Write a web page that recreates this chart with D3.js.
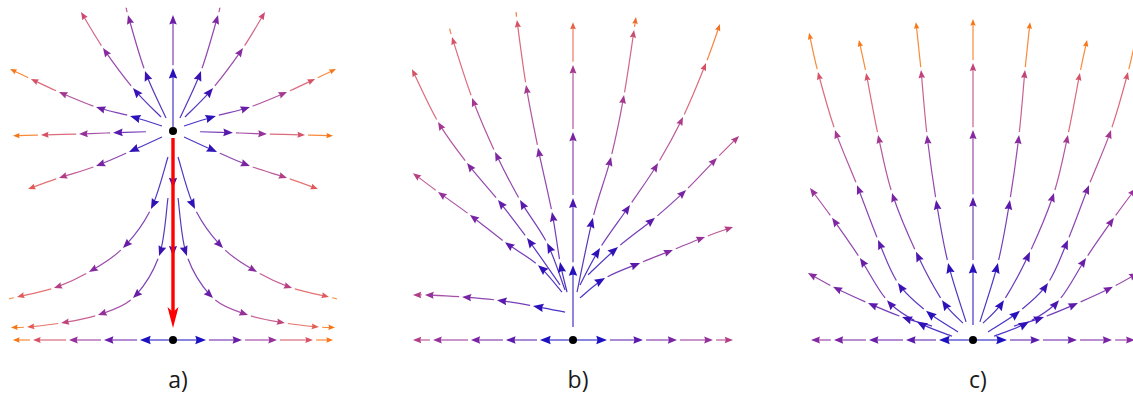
<!DOCTYPE html>
<html>
<head>
<meta charset="utf-8">
<script src="https://cdn.jsdelivr.net/npm/d3@7"></script>
<style>
  html, body { margin: 0; padding: 0; background: #ffffff; }
  svg { display: block; }
</style>
</head>
<body>
<svg id="chart" width="1133" height="396"></svg>
<script>
// Each streamline: first entry is where it starts, every following entry is an
// arrow tip [x, y, speedLevel]; the segment ending at a tip takes that level's colour.

// ---- panel a: source above a saddle ----
const aUpper = [   // right half, mirrored to the left
  [[0.043, 0.888], [0.173, 1.076, 0.2], [0.278, 1.30, 0.42], [0.287, 1.328, 0.6]],
  [[0.074, 0.892], [0.247, 1.008, 0.2], [0.432, 1.168, 0.45], [0.568, 1.312, 0.7]],
  [[0.068, 0.856], [0.265, 0.896, 0.12], [0.475, 0.932, 0.35], [0.704, 0.992, 0.55], [0.877, 1.044, 0.75], [1.006, 1.084, 0.95]],
  [[0.167, 0.833], [0.370, 0.829, 0.3], [0.580, 0.824, 0.5], [0.815, 0.820, 0.75], [0.988, 0.817, 0.95]],
  [[0.068, 0.812], [0.272, 0.752, 0.15], [0.475, 0.696, 0.4], [0.704, 0.648, 0.6], [0.895, 0.604, 0.8]]
];
const aLower = [   // right half, mirrored to the left
  [[0.031, 0.732], [0.136, 0.524, 0.15], [0.309, 0.368, 0.35], [0.519, 0.272, 0.45], [0.735, 0.208, 0.62], [0.963, 0.172, 0.8], [1.012, 0.164, 0.95]],
  [[0.031, 0.568], [0.086, 0.336, 0.2], [0.247, 0.168, 0.35], [0.463, 0.100, 0.5], [0.691, 0.068, 0.65], [0.901, 0.052, 0.82], [1.0, 0.050, 0.95]],
  [[0.019, 0], [0.204, 0, 0.05], [0.426, 0, 0.35], [0.642, 0, 0.5], [0.864, 0, 0.75], [0.988, 0, 0.95]]
];
const aAxis = [
  [[0, 0.852], [0, 1.088, 0.1], [0, 1.30, 0.35]],
  [[0, 0.808], [0, 0.608, 0.15], [0, 0.336, 0.2], [0, 0.072, 0.25]]
];
const aDots = [[0, 0.836], [0, 0]];
const aRedArrow = [[0, 0.808], [0, 0.048]];

// ---- panel b ----
const bLines = [
  [[0.019, 0], [0.210, 0, 0.05], [0.432, 0, 0.3], [0.642, 0, 0.4], [0.864, 0, 0.5], [0.988, 0, 0.6]],
  [[-0.019, 0], [-0.204, 0, 0.05], [-0.414, 0, 0.3], [-0.630, 0, 0.4], [-0.864, 0, 0.5], [-0.988, 0, 0.6]],
  [[0, 0.040], [0, 0.231, 0.1], [0, 0.438, 0.25], [0, 0.642, 0.4], [0, 0.849, 0.55], [0, 0.981, 0.85]],
  [[-0.049, 0.086], [-0.247, 0.105, 0.12], [-0.469, 0.123, 0.3], [-0.685, 0.133, 0.4], [-0.914, 0.139, 0.5], [-0.988, 0.139, 0.6]],
  [[-0.068, 0.148], [-0.216, 0.231, 0.15], [-0.420, 0.302, 0.3], [-0.636, 0.386, 0.4], [-0.833, 0.457, 0.5], [-0.988, 0.515, 0.62]],
  [[-0.080, 0.170], [-0.284, 0.315, 0.2], [-0.463, 0.432, 0.32], [-0.654, 0.546, 0.42], [-0.833, 0.673, 0.55], [-0.994, 0.836, 0.75]],
  [[-0.049, 0.154], [-0.160, 0.299, 0.2], [-0.327, 0.432, 0.3], [-0.481, 0.580, 0.42], [-0.623, 0.747, 0.55], [-0.747, 0.935, 0.75], [-0.759, 0.960, 0.9]],
  [[-0.037, 0.148], [-0.080, 0.241, 0.12], [-0.130, 0.395, 0.3], [-0.216, 0.593, 0.42], [-0.290, 0.787, 0.55], [-0.346, 0.988, 0.75], [-0.349, 1.009, 0.9]],
  [[0.025, 0.148], [0.123, 0.377, 0.2], [0.235, 0.565, 0.42], [0.315, 0.756, 0.55], [0.377, 0.957, 0.7], [0.389, 0.997, 0.9]],
  [[0.043, 0.170], [0.167, 0.284, 0.12], [0.352, 0.417, 0.3], [0.525, 0.546, 0.45], [0.679, 0.688, 0.58], [0.821, 0.855, 0.75], [0.907, 0.975, 0.92]],
  [[0.093, 0.201], [0.278, 0.287, 0.15], [0.506, 0.377, 0.3], [0.698, 0.463, 0.4], [0.889, 0.562, 0.5], [1.025, 0.630, 0.6]],
  [[0.043, 0.130], [0.198, 0.191, 0.12], [0.414, 0.238, 0.3], [0.617, 0.278, 0.42], [0.815, 0.318, 0.5], [0.988, 0.349, 0.6]]
];
const bDots = [[0, 0]];

// ---- panel c: node at the base, right half mirrored ----
const cHalf = [
  [[0.019, 0], [0.210, 0, 0.05], [0.414, 0, 0.3], [0.642, 0, 0.35], [0.858, 0, 0.4], [1.0, 0, 0.45]],
  [[0.043, 0.056], [0.154, 0.238, 0.12], [0.228, 0.432, 0.3], [0.284, 0.633, 0.45], [0.321, 0.833, 0.65], [0.352, 0.981, 0.95]],
  [[0.062, 0.052], [0.191, 0.123, 0.12], [0.352, 0.272, 0.25], [0.500, 0.454, 0.4], [0.586, 0.633, 0.55], [0.660, 0.824, 0.75], [0.704, 0.926, 0.95]],
  [[0.093, 0.025], [0.290, 0.090, 0.1], [0.463, 0.176, 0.2], [0.586, 0.309, 0.3], [0.716, 0.478, 0.4], [0.852, 0.648, 0.55], [0.957, 0.827, 0.75], [1.012, 0.948, 0.95]],
  [[0.130, 0.012], [0.346, 0.056, 0.12], [0.531, 0.123, 0.25], [0.698, 0.253, 0.35], [0.870, 0.377, 0.42], [1.006, 0.469, 0.5]],
  [[0.253, 0.043], [0.438, 0.071, 0.2], [0.648, 0.114, 0.3], [0.864, 0.164, 0.38], [1.019, 0.207, 0.45]]
];
const cAxis = [
  [[0, 0.046], [0, 0.238, 0.1], [0, 0.441, 0.3], [0, 0.648, 0.45], [0, 0.855, 0.65], [0, 0.991, 0.95]]
];
const cDots = [[0, 0]];

const panelLabels = ["a)", "b)", "c)"];
const panelCenters = [173, 573, 973];
const panelTops = [1.296, 1, 1];

// speed level -> colour
const speedLevels = [0, 0.2, 0.35, 0.5, 0.65, 0.8, 1];
const speedColors = ["#1010c4", "#3c12b4", "#6a1ea8", "#96309a", "#c0447c", "#e0585a", "#ff8000"];

const color = d3.scaleLinear().domain(speedLevels).range(speedColors).interpolate(d3.interpolateRgb).clamp(true);
const headLen = d3.scaleLinear().domain([0, 1]).range([11, 6.5]).clamp(true);
const headHalf = d3.scaleLinear().domain([0, 1]).range([4.4, 2.6]).clamp(true);

const mirror = line => line.map(p => p.length > 2 ? [-p[0], p[1], p[2]] : [-p[0], p[1]]);

const svg = d3.select("#chart");
const W = 324, H = 324, baseY = 340;

function drawStream(g, pts, sx, sy) {
  const P = pts.map(d => [sx(d[0]), sy(d[1]), d[2]]);
  const n = P.length;
  for (let i = 0; i < n - 1; i++) {
    const p0 = P[Math.max(i - 1, 0)], p1 = P[i], p2 = P[i + 1], p3 = P[Math.min(i + 2, n - 1)];
    const c1 = [p1[0] + (p2[0] - p0[0]) / 6, p1[1] + (p2[1] - p0[1]) / 6];
    const c2 = [p2[0] - (p3[0] - p1[0]) / 6, p2[1] - (p3[1] - p1[1]) / 6];
    const path = d3.path();
    path.moveTo(p1[0], p1[1]);
    path.bezierCurveTo(c1[0], c1[1], c2[0], c2[1], p2[0], p2[1]);
    const lvl = p2[2];
    const col = color(lvl);
    const seg = g.append("path")
      .attr("d", path.toString())
      .attr("fill", "none")
      .attr("stroke", col)
      .attr("stroke-width", 1.2)
      .attr("stroke-opacity", 0.85);
    const len = seg.node().getTotalLength();
    const gap = i === 0 ? 0 : 3;
    const aL = headLen(lvl), aH = headHalf(lvl);
    const hasHead = len > 9;
    const visible = Math.max(0, len - gap - (hasHead ? aL * 0.6 : 0));
    seg.attr("stroke-dasharray", `0,${gap},${visible},${len + 20}`);
    if (!hasHead) continue;
    let dx = p2[0] - c2[0], dy = p2[1] - c2[1];
    let m = Math.hypot(dx, dy);
    if (m < 1e-3) { dx = p2[0] - p1[0]; dy = p2[1] - p1[1]; m = Math.hypot(dx, dy); }
    dx /= m; dy /= m;
    const nx = -dy, ny = dx;
    const bx = p2[0] - dx * aL, by = p2[1] - dy * aL;
    const ix = p2[0] - dx * aL * 0.88, iy = p2[1] - dy * aL * 0.88;
    g.append("path")
      .attr("d", `M${p2[0]},${p2[1]}L${bx + nx * aH},${by + ny * aH}L${ix},${iy}L${bx - nx * aH},${by - ny * aH}Z`)
      .attr("fill", col);
  }
}

const panelStreams = [
  [...aUpper, ...aUpper.map(mirror), ...aLower, ...aLower.map(mirror), ...aAxis],
  bLines,
  [...cHalf, ...cHalf.map(mirror), ...cAxis]
];
const panelDots = [aDots, bDots, cDots];

panelCenters.forEach((cx, k) => {
  const sx = d3.scaleLinear().domain([-1, 1]).range([cx - W / 2, cx + W / 2]);
  const sy = d3.scaleLinear().domain([0, panelTops[k]]).range([baseY, baseY - H]);
  const g = svg.append("g");
  panelStreams[k].forEach(line => drawStream(g, line, sx, sy));

  if (k === 0) {
    // the separatrix from source to saddle
    const x0 = sx(aRedArrow[0][0]), y0 = sy(aRedArrow[0][1]);
    const x1 = sx(aRedArrow[1][0]), y1 = sy(aRedArrow[1][1]);
    g.append("line").attr("x1", x0).attr("y1", y0).attr("x2", x1).attr("y2", y1 - 16)
      .attr("stroke", "#ff0000").attr("stroke-width", 3.4);
    g.append("path")
      .attr("d", `M${x1},${y1}L${x1 - 5.5},${y1 - 21}L${x1},${y1 - 16}L${x1 + 5.5},${y1 - 21}Z`)
      .attr("fill", "#ff0000");
  }

  g.selectAll("circle.pt").data(panelDots[k]).join("circle")
    .attr("class", "pt")
    .attr("cx", d => sx(d[0])).attr("cy", d => sy(d[1]))
    .attr("r", 4).attr("fill", "#000");

  svg.append("text")
    .attr("x", cx + 5).attr("y", 388)
    .attr("text-anchor", "middle")
    .attr("font-family", "'Open Sans', 'Noto Sans', sans-serif")
    .attr("font-size", 23)
    .attr("fill", "#1a1a1a")
    .text(panelLabels[k]);
});
</script>
</body>
</html>
